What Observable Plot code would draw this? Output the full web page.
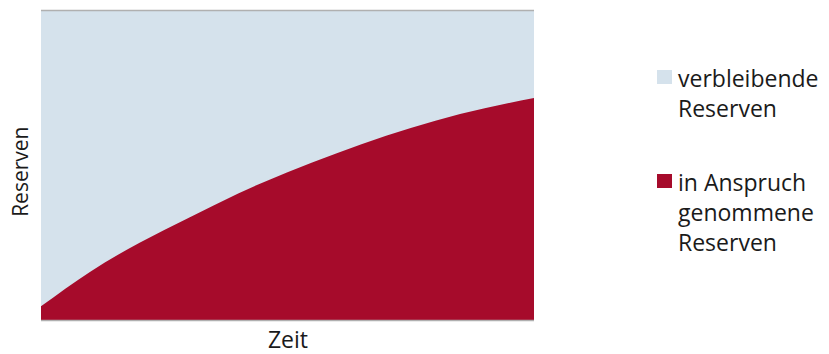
<!DOCTYPE html>
<html>
<head>
<meta charset="utf-8">
<script src="https://cdn.jsdelivr.net/npm/d3@7"></script>
<script src="https://cdn.jsdelivr.net/npm/@observablehq/plot@0.6"></script>
<style>
  html, body { margin: 0; padding: 0; background: #fff; }
  #wrap { position: relative; width: 829px; height: 354px; font-family: "Open Sans", sans-serif; color: #1a1a1a; }
  #wrap svg { display: block; }
  .legend { position: absolute; left: 657px; top: 0; font-size: 23px; line-height: 30px; }
  .item { position: absolute; padding-left: 21px; white-space: pre; }
  .sw { position: absolute; left: 0; top: 7px; width: 15px; height: 14px; }
</style>
</head>
<body>
<div id="wrap"></div>
<script>
// Zeit (0–100) and the share of reserves already used up (0–100)
const zeit = [0, 10, 20, 30, 40, 50, 60, 70, 80, 90, 100];
const genutzt = [4.4, 15.6, 24.9, 33.0, 40.8, 47.7, 53.8, 59.4, 64.3, 68.3, 71.6];

const seriesNames = ["verbleibende\nReserven", "in Anspruch\ngenommene\nReserven"];
const seriesColors = ["#d5e2ec", "#a60b2b"];
const axisLabels = { x: "Zeit", y: "Reserven" };

const rows = zeit.map((t, i) => ({ t, v: genutzt[i] }));

const chart = Plot.plot({
  width: 829,
  height: 354,
  marginLeft: 41,
  marginRight: 295,
  marginTop: 10,
  marginBottom: 34,
  x: { domain: [0, 100], axis: null },
  y: { domain: [0, 100], axis: null },
  style: { fontFamily: "Open Sans, sans-serif", color: "#1a1a1a" },
  marks: [
    // remaining reserves: the full frame behind the used-up area
    Plot.areaY([0, 100], { x: d => d, y1: 0, y2: 100, fill: seriesColors[0] }),
    // used-up reserves
    Plot.areaY(rows, { x: "t", y: "v", fill: seriesColors[1], curve: "natural" }),
    Plot.ruleY([0, 100], { stroke: "#b0b0b0", strokeWidth: 1.5 }),
    Plot.text([axisLabels.x], { x: 50, y: -6.5, fontSize: 23, lineAnchor: "middle", fill: "#1a1a1a" }),
    Plot.text([axisLabels.y], { x: -4.1, y: 48, rotate: -90, fontSize: 21, lineAnchor: "middle", fill: "#1a1a1a" })
  ]
});

const wrap = document.getElementById("wrap");
wrap.appendChild(chart);

// legend at the right
const legend = document.createElement("div");
legend.className = "legend";
const tops = [63, 167];
seriesNames.forEach((name, i) => {
  const item = document.createElement("div");
  item.className = "item";
  item.style.top = tops[i] + "px";
  const sw = document.createElement("span");
  sw.className = "sw";
  sw.style.background = seriesColors[i];
  item.appendChild(sw);
  item.appendChild(document.createTextNode(name));
  legend.appendChild(item);
});
wrap.appendChild(legend);
</script>
</body>
</html>
